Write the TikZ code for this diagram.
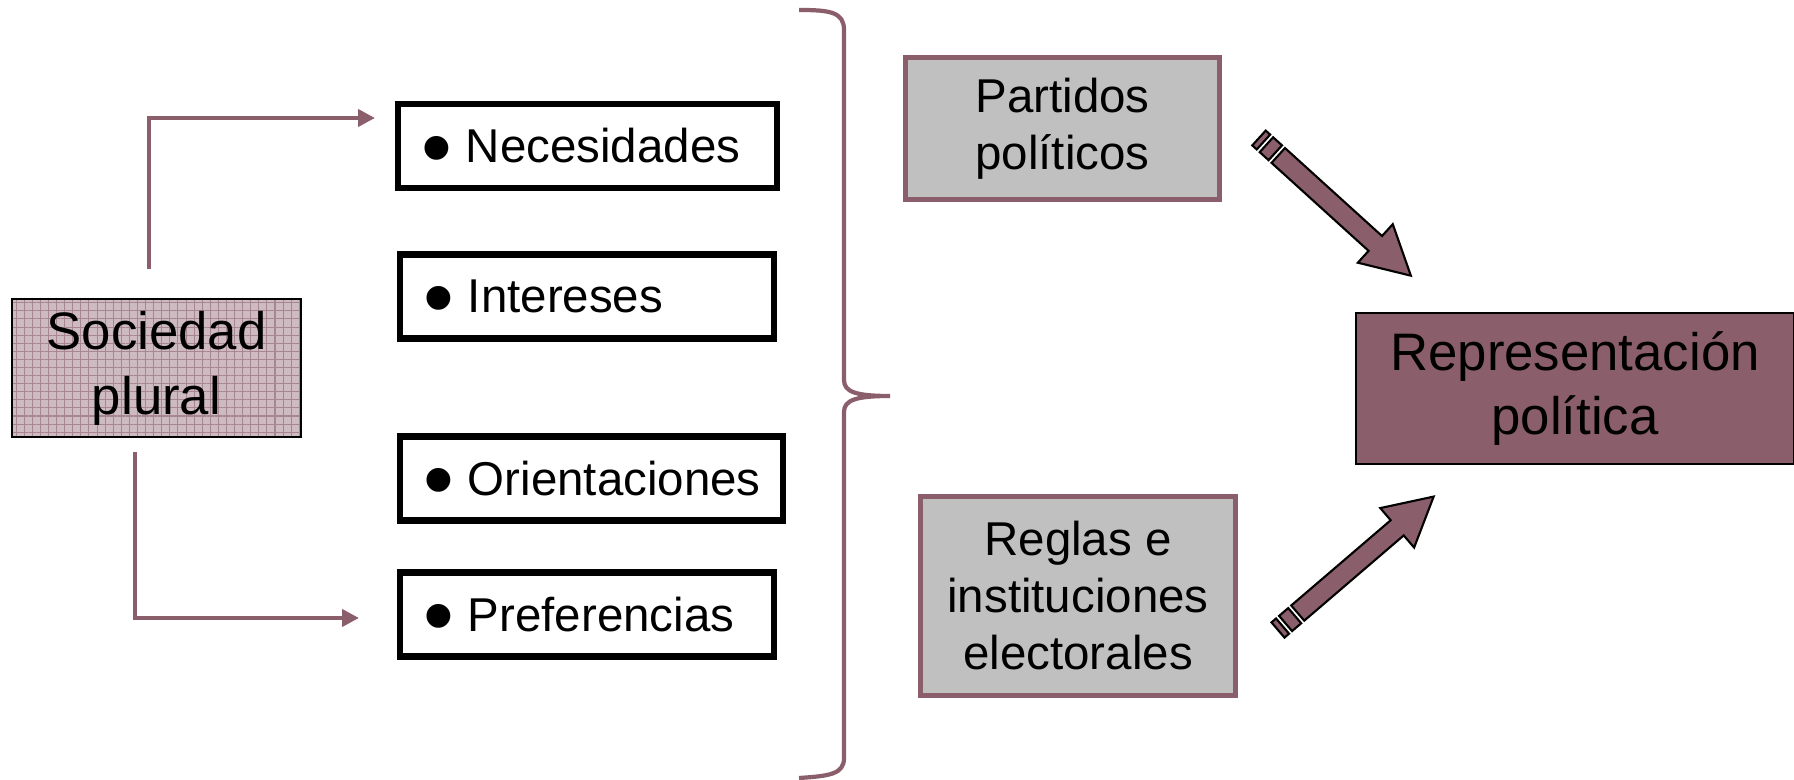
\documentclass[tikz,border=0pt]{standalone}
\usepackage{fontspec}
\setmainfont{Liberation Sans}
\usetikzlibrary{arrows.meta,patterns.meta}

\definecolor{mauve}{RGB}{139,94,107}
\definecolor{boxgray}{RGB}{192,192,192}

\newcommand{\bigbullet}{\makebox[12.7pt][l]{\raisebox{-4.1pt}[0pt][0pt]{\fontsize{25}{16}\selectfont\textbullet}}}

\tikzset{
	stripedarrow/.pic={
			\filldraw[fatarrow] (0,-10) rectangle (6,10);
			\filldraw[fatarrow] (10,-10) rectangle (22,10);
			\filldraw[fatarrow] (26,-10) -- (157,-10) -- (157,-26) -- (205,0)
			-- (157,26) -- (157,10) -- (26,10) -- cycle;
		}
}

\begin{document}
\begin{tikzpicture}[
		x=0.01cm, y=-0.01cm,
		item/.style={rectangle, draw=black, line width=1.85pt, fill=white, inner xsep=0.23cm,
				minimum height=0.835cm, align=left, font=\fontsize{13.5}{16}\selectfont},
		graybox/.style={rectangle, draw=mauve, line width=1.4pt, fill=boxgray, align=center,
				font=\fontsize{13.5}{16.2}\selectfont},
		link/.style={draw=mauve, line width=1.15pt, -{Triangle[length=4.8pt,width=4.8pt]}},
		fatarrow/.style={fill=mauve, draw=black, line width=0.6pt, line join=miter},
		brace/.style={draw=mauve, line width=1.2pt}
	]
	\useasboundingbox (0,0) rectangle (1794,780);

	% origen
	\node[rectangle, draw=black, line width=0.45pt, minimum width=2.89cm, minimum height=1.38cm,
		preaction={fill=mauve!42}, pattern={Hatch[angle=0,distance=2.3pt,line width=0.3pt]},
		pattern color=mauve!75, align=center, font=\fontsize{15}{18.5}\selectfont]
		(soc) at (156.5,368) {Sociedad\\plural};

	% lista
	\node[item, text width=3.325cm] (nec) at (587.5,146) {\bigbullet Necesidades};
	\node[item, text width=3.275cm] (int) at (587,296.5) {\bigbullet Intereses};
	\node[item, text width=3.365cm] (ori) at (591.5,478.5) {\bigbullet Orientaciones};
	\node[item, text width=3.275cm] (pre) at (587,614.5) {\bigbullet Preferencias};

	\coordinate (socUp) at (149,269);
	\coordinate (necIn) at (375,118);
	\coordinate (socDown) at (135,452);
	\coordinate (preIn) at (359,618);
	\draw[link] (socUp) |- (necIn);
	\draw[link] (socDown) |- (preIn);

	% llave
	\draw[brace] (799,10) .. controls (830,10) and (844,12) .. (844,30) -- (844,380)
	.. controls (844,392) and (856,396) .. (890,396)
	.. controls (856,396) and (844,400) .. (844,412) -- (844,758)
	.. controls (844,774) and (830,776) .. (799,778);

	% factores
	\node[graybox, minimum width=3.14cm, minimum height=1.42cm] (par) at (1062.5,128.5) {Partidos\\políticos};
	\node[graybox, minimum width=3.15cm, minimum height=1.99cm] (reg) at (1078,596) {Reglas e\\instituciones\\electorales};

	\node[rectangle, draw=black, line width=0.5pt, fill=mauve, minimum width=4.38cm, minimum height=1.51cm,
		align=center, font=\fontsize{15}{18.2}\selectfont] (rep) at (1575,388.5) {Representación\\política};

	\coordinate (parTail) at (1259,138);
	\coordinate (regTail) at (1278,630);
	\pic[rotate=-42.2] at (parTail) {stripedarrow};
	\pic[rotate=40.6] at (regTail) {stripedarrow};
\end{tikzpicture}
\end{document}
